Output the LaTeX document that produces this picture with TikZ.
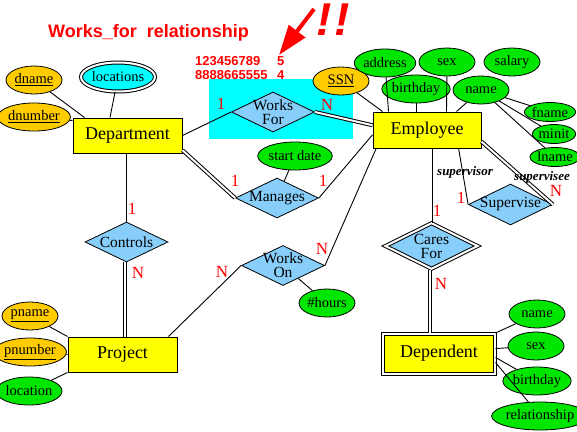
\documentclass[tikz,border=0pt]{standalone}
\usepackage{fontspec}
\setmainfont{Liberation Serif}
\newfontfamily\headfont{Liberation Sans}
\usetikzlibrary{calc,arrows.meta,shapes.geometric}
\definecolor{entyellow}{RGB}{255,255,0}
\definecolor{keygold}{RGB}{255,204,0}
\definecolor{attrgreen}{RGB}{0,230,0}
\definecolor{relblue}{RGB}{135,206,250}
\definecolor{hilite}{RGB}{0,255,255}
\tikzset{
    entity/.style={draw,line width=1pt,fill=entyellow,minimum width=109,minimum height=35,inner sep=0,font=\fontsize{18}{18}\selectfont},
    weakentity/.style={entity,double,double distance=2pt,minimum width=112,minimum height=40},
    attr/.style={ellipse,draw,line width=0.8pt,fill=attrgreen,minimum width=56,minimum height=28,inner sep=0,font=\fontsize{14.5}{14}\selectfont},
    smallattr/.style={attr,minimum width=35,minimum height=19},
    keyattr/.style={attr,fill=keygold},
    multiattr/.style={attr,fill=hilite,line width=1pt,double,double distance=2pt,minimum width=61,minimum height=29},
    reltext/.style={font=\fontsize{15.5}{14}\selectfont,align=center,inner sep=0},
    rel/.style={diamond,draw,line width=0.8pt,fill=relblue,minimum width=83,minimum height=40,inner sep=0,label={[reltext]center:{#1}}},
    idrel/.style={rel=#1,line width=1pt,double,double distance=2pt,minimum width=92.5,minimum height=46},
    link/.style={black,line width=0.9pt},
    total/.style={black,line width=1pt,double,double distance=2pt},
    card/.style={red,inner sep=0,font=\fontsize{17}{17}\selectfont},
    role/.style={inner sep=0,font=\fontsize{13}{13}\selectfont\bfseries\itshape},
    note/.style={red,inner sep=0,anchor=base west,font=\headfont\bfseries\fontsize{13}{13}\selectfont}
}
\begin{document}
\begin{tikzpicture}[x=1pt,y=-1pt]
\useasboundingbox (0,0) rectangle (577,431);
\fill[hilite] (209,79) rectangle (353,139);

% heading and remark
\node[red,inner sep=0,anchor=base west,font=\headfont\bfseries\fontsize{18}{18}\selectfont] (title) at (48,37.5) {Works\_for\ \ relationship};
\node[note] (keys) at (195,65.7) {123456789};
\node[note] (keycount) at (277,65.7) {5};
\node[note] (vals) at (195,79.3) {8888665555};
\node[note] (valcount) at (277,79.3) {4};
\draw[red,line width=4pt,-{Triangle[length=30pt,width=20pt]}] (314,9) -- (279,55);
\node[red,inner sep=0,anchor=base west,font=\headfont\bfseries\itshape\fontsize{46}{46}\selectfont] (bang) at (316,35) {!\kern3pt!};

% entities
\node[entity] (dept) at (127.5,135.5) {Department};
\node[entity,minimum width=108,minimum height=36] (emp) at (427,130) {Employee};
\node[entity] (proj) at (122.5,354.5) {Project};
\node[weakentity] (dep) at (439,353.5) {Dependent};

% relationships
\node[rel={Works\\For}] (wf) at (273,112) {};
\node[rel={Manages}] (man) at (277,198) {};
\node[rel={Controls}] (ctl) at (126.5,242) {};
\node[rel={Works\\On}] (wo) at (283,265.5) {};
\node[rel={Supervise},minimum width=84,minimum height=41] (sup) at (510.5,204.5) {};
\node[idrel={Cares\\For}] (cf) at (431.5,246) {};

% attributes
\node[keyattr] (dname) at (34,80) {\underline{dname}};
\node[keyattr] (dnumber) at (34,117) {\underline{dnumber}};
\node[multiattr] (locs) at (118,77) {locations};
\node[keyattr] (ssn) at (341,81) {\underline{SSN}};
\node[attr] (addr) at (385,63) {address};
\node[attr] (esex) at (447,62) {sex};
\node[attr] (salary) at (512,62) {salary};
\node[attr] (bday) at (416,89) {birthday};
\node[attr] (ename) at (481,90) {name};
\node[smallattr] (fname) at (550,112) {fname};
\node[smallattr] (minit) at (554,134) {minit};
\node[smallattr] (lname) at (555,157) {lname};
\node[attr] (sdate) at (295,156) {start date};
\node[attr] (hours) at (327,303) {\#hours};
\node[attr] (dpname) at (537,314) {name};
\node[attr] (dpsex) at (536,346) {sex};
\node[attr] (dpbday) at (537,381) {birthday};
\node[attr,minimum width=75] (dprel) at (540,416) {relationship};
\node[keyattr] (pname) at (30,316) {\underline{pname}};
\node[keyattr] (pnumber) at (30,352) {\underline{pnumber}};
\node[attr] (ploc) at (29,391) {location};

% attribute links
\draw[link] (dname) -- ($(dept.north west)+(12,0)$);
\draw[link] (dnumber) -- ($(dept.north west)+(0,3)$);
\draw[link] (locs) -- ($(dept.north west)+(37.5,0)$);
\draw[link] (ssn) -- ($(emp.north west)+(10,0)$);
\draw[link] (addr) -- ($(emp.north west)+(16,0)$);
\draw[link] (bday) -- (bday |- emp.north);
\draw[link] (esex) -- ($(emp.north west)+(74,0)$);
\draw[link] (ename) -- ($(emp.north west)+(84,0)$);
\draw[link] (ename) -- (fname);
\draw[link] (ename) -- (minit);
\draw[link] (ename) -- (lname);
\draw[link] (sdate) -- (man);
\draw[link] (hours) -- (wo);
\draw[link] (dep.north east) -- (dpname);
\draw[link] (dep.5) -- (dpsex);
\draw[link] (dep.-4) -- (dpbday);
\draw[link] (dep.-9) -- (dprel);
\draw[link] (pname) -- (proj.north west);
\draw[link] (pnumber) -- (proj.west);
\draw[link] (ploc) -- (proj.south west);

% relationship links
\draw[link] (dept.east) -- (wf.west);
\draw[total] (wf.east) -- (emp.175);
\draw[total] (dept.-15) -- (man.west);
\draw[link] (man.east) -- (emp.185);
\draw[link] (ctl.north |- dept.south) -- (ctl.north);
\draw[total] ($(ctl.south)+(-1.5,0)$) -- ($(ctl.south |- proj.north)+(-1.5,0)$);
\draw[link] ($(proj.north east)+(-9,0)$) -- (wo.west);
\draw[link] (wo.east) -- (emp.200);
\draw[link] ($(cf.north |- emp.south)+(1,0)$) -- ($(cf.north)+(1,0)$);
\draw[total] ($(cf.south)+(-1.5,0)$) -- ($(cf.south |- dep.north)+(-1.5,0)$);
\draw[link] ($(emp.south west)!0.79!(emp.south east)$) -- (sup.west);
\draw[total] (emp.-12) -- (sup.east);

% cardinalities and roles
\node[card] (c1) at (221,104) {1};
\node[card] (c2) at (327,105) {N};
\node[card] (c3) at (235,181) {1};
\node[card] (c4) at (323,181) {1};
\node[card] (c5) at (132,209) {1};
\node[card] (c6) at (138,273) {N};
\node[card] (c7) at (222,272) {N};
\node[card] (c8) at (322,249) {N};
\node[card] (c9) at (437,211) {1};
\node[card] (c10) at (441,284) {N};
\node[card] (c11) at (461,198) {1};
\node[card] (c12) at (556,191) {N};
\node[role] (r1) at (465,172) {supervisor};
\node[role] (r2) at (542,177) {supervisee};

\end{tikzpicture}
\end{document}
